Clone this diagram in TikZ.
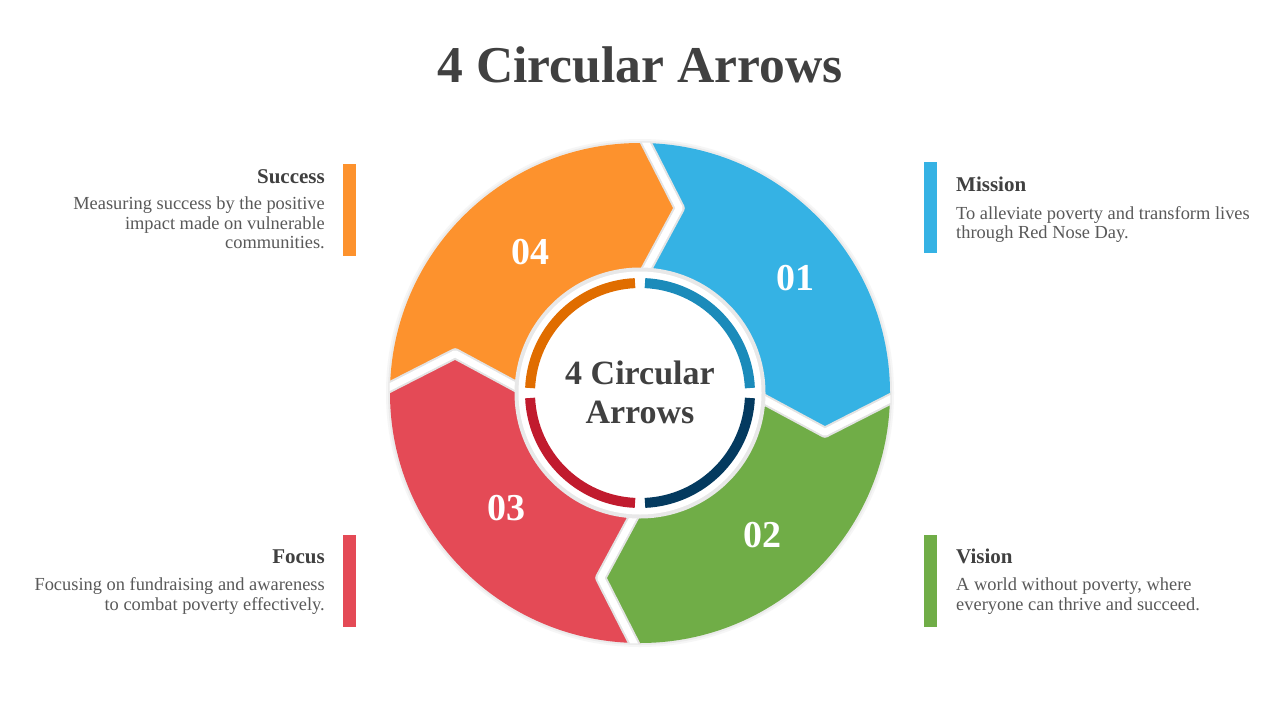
\documentclass[tikz,border=0pt]{standalone}
\usepackage{fontspec}
\setmainfont{Liberation Serif}
\definecolor{segblue}{HTML}{35B2E4}
\definecolor{seggreen}{HTML}{70AD47}
\definecolor{segred}{HTML}{E44A56}
\definecolor{segorange}{HTML}{FD922D}
\definecolor{inblue}{HTML}{1B8BBA}
\definecolor{innavy}{HTML}{043A5F}
\definecolor{inred}{HTML}{C11B2E}
\definecolor{inorange}{HTML}{E06D00}
\definecolor{headgray}{HTML}{404040}
\definecolor{bodygray}{HTML}{595959}
\begin{document}
\begin{tikzpicture}[x=1pt,y=-1pt,
  title/.style={font=\bfseries\fontsize{51.6}{56}\selectfont, text=headgray, inner sep=0pt, anchor=base},
  ctext/.style={font=\bfseries\fontsize{34}{38}\selectfont, text=headgray, inner sep=0pt, anchor=base},
  headr/.style={font=\bfseries\fontsize{21}{24}\selectfont, text=headgray, inner sep=0pt, anchor=base east},
  headl/.style={font=\bfseries\fontsize{21}{24}\selectfont, text=headgray, inner sep=0pt, anchor=base west},
  bodyr/.style={font=\fontsize{18.4}{20}\selectfont, text=bodygray, inner sep=0pt, anchor=base east},
  bodyl/.style={font=\fontsize{18.4}{20}\selectfont, text=bodygray, inner sep=0pt, anchor=base west},
  num/.style={font=\bfseries\fontsize{38}{40}\selectfont, text=white, inner sep=0pt},
  bar/.style={inner sep=0pt, minimum width=13pt, minimum height=92pt}]
\useasboundingbox (0,0) rectangle (1280,720);
\fill[white] (0,0) rectangle (1280,720);

\node[title] (title) at (640,82) {4 Circular Arrows};

\begin{scope}[shift={(640,393)}, yscale=-1]
  \fill[gray!7] (0,0) circle (254);
  \fill[gray!16] (0,0) circle (252);
  \fill[segblue] (90:250) arc[start angle=90,end angle=0,radius=250] -- (-12:189) -- (0:121)
     arc[start angle=0,end angle=90,radius=121] -- (78:189) -- cycle;
  \fill[seggreen] (0:250) arc[start angle=0,end angle=-90,radius=250] -- (-102:189) -- (-90:121)
     arc[start angle=-90,end angle=0,radius=121] -- (-12:189) -- cycle;
  \fill[segred] (-90:250) arc[start angle=-90,end angle=-180,radius=250] -- (-192:189) -- (-180:121)
     arc[start angle=-180,end angle=-90,radius=121] -- (-102:189) -- cycle;
  \fill[segorange] (180:250) arc[start angle=180,end angle=90,radius=250] -- (78:189) -- (90:121)
     arc[start angle=90,end angle=180,radius=121] -- (168:189) -- cycle;
  \begin{scope}
    \clip (0,0) circle (250.5);
    \foreach \t in {90,0,-90,180}
      \draw[gray!22, line width=11pt, line join=round] (\t:112) -- (\t-12:189) -- (\t:262);
    \foreach \t in {90,0,-90,180}
      \draw[white, line width=7pt, line join=round] (\t:112) -- (\t-12:189) -- (\t:262);
  \end{scope}
  \fill[gray!18] (0,0) circle (125.5);
  \fill[white] (0,0) circle (121.5);
  \draw[inblue, line width=10pt] (87.4:110) arc[start angle=87.4, end angle=2.6, radius=110];
  \draw[innavy, line width=10pt] (-2.6:110) arc[start angle=-2.6, end angle=-87.4, radius=110];
  \draw[inred, line width=10pt] (-92.6:110) arc[start angle=-92.6, end angle=-177.4, radius=110];
  \draw[inorange, line width=10pt] (177.4:110) arc[start angle=177.4, end angle=92.6, radius=110];
\end{scope}

\node[ctext] (c1) at (640,384) {4 Circular};
\node[ctext] (c2) at (640,423) {Arrows};

\node[num] (n1) at (795,278.5) {01};
\node[num] (n2) at (762,535) {02};
\node[num] (n3) at (506,508) {03};
\node[num] (n4) at (530,252) {04};

\node[bar, fill=segorange] (b4) at (349.5,210) {};
\node[bar, fill=segblue, minimum height=91pt] (b1) at (930.5,207.5) {};
\node[bar, fill=segred] (b3) at (349.5,581) {};
\node[bar, fill=seggreen] (b2) at (930.5,581) {};

\node[headr] (h4) at (325,183) {Success};
\node[bodyr] (t4a) at (325,209.5) {Measuring success by the positive};
\node[bodyr] (t4b) at (325,229) {impact made on vulnerable};
\node[bodyr] (t4c) at (325,248.5) {communities.};

\node[headl] (h1) at (956,191) {Mission};
\node[bodyl] (t1a) at (956,219) {To alleviate poverty and transform lives};
\node[bodyl] (t1b) at (956,238.5) {through Red Nose Day.};

\node[headr] (h3) at (325,563.5) {Focus};
\node[bodyr] (t3a) at (325,590.5) {Focusing on fundraising and awareness};
\node[bodyr] (t3b) at (325,610.5) {to combat poverty effectively.};

\node[headl] (h2) at (956,563.5) {Vision};
\node[bodyl] (t2a) at (956,590.5) {A world without poverty, where};
\node[bodyl] (t2b) at (956,610.5) {everyone can thrive and succeed.};
\end{tikzpicture}
\end{document}
